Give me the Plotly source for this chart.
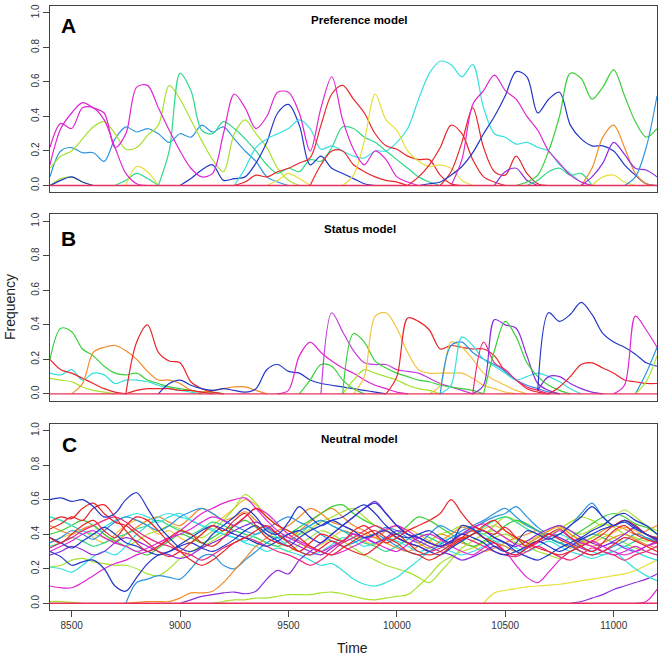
import plotly.graph_objects as go

STEP = 50
T_START, T_END = 8400, 11200
x_ticks = [8500, 9000, 9500, 10000, 10500, 11000]
y_ticks = [0.0, 0.2, 0.4, 0.6, 0.8, 1.0]
panel_titles = ["Preference model", "Status model", "Neutral model"]
panel_letters = ["A", "B", "C"]
baseline_times = [8400, 11200]
baseline_values = [0.0, 0.0]

COL = {
    "red": "#E8262B", "orange": "#F28C28", "gold": "#F2C23A", "yellow": "#E6E03A",
    "lime": "#A6E22E", "green": "#3CCF3C", "spring": "#2FD98A", "cyan": "#36E0E0",
    "azure": "#2F95E0", "blue": "#2338C8", "violet": "#8E2CE0", "purple": "#C43BE0",
    "magenta": "#E026D0", "rose": "#F0287A", "base": "#E8305C",
}

# ---------------- Panel A : Preference model ----------------
A_mag1 = [0.12,0.33,0.42,0.48,0.45,0.42,0.22,0.30,0.57,0.58,
          0.45,0.32,0.20,0.10,0.05,0.07,0.30,0.53,0.45,0.33,
          0.40,0.54,0.54,0.42,0.20,0.45,0.63,0.38,0.21,0.12,
          0.20,0.15,0.05,0.02,0.0]
A_mag2 = [0.22,0.36,0.33,0.45,0.45,0.38,0.22,0.07,0.01,0.0]
A_lime1 = [0.10,0.17,0.20,0.27,0.34,0.37,0.30,0.21,0.22,0.29,
           0.35,0.58,0.50,0.38,0.26,0.15,0.08,0.30,0.38,0.30,
           0.22,0.10,0.03,0.0]
A_lime2 = [0.0,0.04,0.05,0.02,0.0]
A_spring1 = [0.0,0.03,0.07,0.04,0.0]
A_spring2 = [0.0,0.2,0.65,0.55,0.32,0.30,0.37,0.33,0.27,0.2,
             0.12,0.07,0.1,0.08,0.15,0.14,0.22,0.34,0.33,0.28,
             0.25,0.2,0.15,0.1,0.05,0.02,0.0]
A_spring3 = [0.0,0.03,0.08,0.1,0.06,0.07,0.0]
A_azure1 = [0.05,0.2,0.22,0.19,0.19,0.14,0.27,0.34,0.31,0.33,
            0.3,0.25,0.3,0.28,0.35,0.31,0.34,0.27,0.2,0.14,
            0.05,0.02,0.0]
A_azure2 = [0.0,0.05,0.22,0.52]
A_blue1 = [0.0,0.03,0.05,0.02,0.0]
A_blue2 = [0.0,0.04,0.09,0.12,0.03,0.04,0.05,0.13,0.25,0.42,
           0.47,0.35,0.12,0.17,0.1,0.07,0.04,0.01,0.0]
A_blue3 = [0.0,0.01,0.02,0.06,0.11,0.19,0.3,0.4,0.52,0.66,
           0.63,0.42,0.5,0.54,0.35,0.27,0.23,0.23,0.2,0.12,
           0.06,0.01,0.0]
A_cyan1 = [0.0,0.1,0.22,0.27,0.3,0.33,0.38,0.33,0.21,0.23,
           0.2,0.17,0.16,0.2,0.2,0.25,0.33,0.5,0.65,0.72,
           0.7,0.63,0.7,0.45,0.3,0.28,0.24,0.25,0.22,0.2,
           0.12,0.07,0.02,0.0]
A_red1 = [0.0,0.02,0.06,0.05,0.08,0.1,0.13,0.16,0.35,0.53,
          0.58,0.5,0.42,0.3,0.23,0.21,0.17,0.15,0.15,0.06,
          0.01,0.0]
A_red2 = [0.0,0.12,0.2,0.2,0.12,0.08,0.05,0.03,0.02,0.0]
A_red3 = [0.0,0.05,0.12,0.22,0.35,0.3,0.15,0.05,0.02,0.0]
A_red4 = [0.0,0.08,0.25,0.45,0.22,0.08,0.06,0.17,0.07,0.01,0.0]
A_yel1 = [0.0,0.11,0.08,0.0]
A_yel2 = [0.0,0.03,0.07,0.04,0.0]
A_yel3 = [0.0,0.06,0.26,0.53,0.38,0.32,0.2,0.14,0.11,0.12,0.1,0.03,0.0]
A_yel4 = [0.0,0.05,0.06,0.02,0.0]
A_mag3 = [0.0,0.15,0.47,0.55,0.64,0.55,0.5,0.4,0.32,0.2,0.13,0.06,0.02,0.0]
A_green = [0.0,0.02,0.06,0.2,0.4,0.65,0.62,0.5,0.57,0.67,0.52,0.37,0.28,0.33]
A_orange = [0.0,0.1,0.28,0.35,0.22,0.07,0.01,0.0]
A_violet1 = [0.0,0.08,0.1,0.03,0.0]
A_violet2 = [0.0,0.05,0.13,0.25,0.18,0.1,0.09,0.05]

panel_A = [
    ("azure", 8400, A_azure1), ("lime", 8400, A_lime1), ("lime", 8400, A_lime2),
    ("blue", 8400, A_blue1), ("spring", 8700, A_spring1), ("yellow", 8750, A_yel1),
    ("spring", 8900, A_spring2), ("blue", 9000, A_blue2), ("cyan", 9250, A_cyan1),
    ("yellow", 9400, A_yel2), ("red", 9250, A_red1), ("red", 9600, A_red2),
    ("yellow", 9750, A_yel3), ("red", 10050, A_red3), ("red", 10200, A_red4),
    ("blue", 10100, A_blue3), ("violet", 10450, A_violet1), ("spring", 10600, A_spring3),
    ("green", 10550, A_green), ("yellow", 10900, A_yel4), ("orange", 10850, A_orange),
    ("violet", 10850, A_violet2), ("azure", 11050, A_azure2),
    ("magenta", 8400, A_mag2), ("magenta", 8400, A_mag1), ("magenta", 10250, A_mag3),
]

# ---------------- Panel B : Status model ----------------
B_green1 = [0.2,0.38,0.36,0.26,0.22,0.16,0.12,0.11,0.12,0.08,0.06,0.04,0.03,0.02,0.01,0.01,0.0]
B_red1 = [0.2,0.14,0.12,0.09,0.06,0.03,0.01,0.0]
B_red2 = [0.0,0.3,0.4,0.24,0.19,0.18,0.07,0.03,0.01,0.0]
B_red3 = [0.0,0.02,0.03,0.03,0.03,0.02,0.02,0.01,0.0]
B_cyan1 = [0.12,0.11,0.14,0.08,0.12,0.11,0.06,0.08,0.08,0.07,0.05,0.03,0.02,0.01,0.0]
B_lime1 = [0.09,0.08,0.07,0.04,0.02,0.01,0.0]
B_orange1 = [0.0,0.06,0.24,0.27,0.28,0.25,0.2,0.13,0.08,0.08,0.06,0.02,0.01,0.02,0.03,0.04,0.04,0.02,0.0]
B_blue1 = [0.0,0.06,0.08,0.05,0.03,0.02,0.03,0.02,0.01,0.03,0.14,0.17,0.13,0.12,0.08,0.06,0.05,0.04,0.03,0.02,0.01,0.0]
B_mag1 = [0.0,0.02,0.22,0.3,0.24,0.19,0.15,0.12,0.08,0.05,0.03,0.01,0.0]
B_purple1 = [0.0,0.47,0.36,0.25,0.18,0.17,0.17,0.14,0.13,0.12,0.09,0.06,0.04,0.02,0.0]
B_green2 = [0.0,0.08,0.17,0.16,0.08,0.03,0.0]
B_green3 = [0.0,0.35,0.3,0.19,0.15,0.12,0.1,0.08,0.07,0.05,0.04,0.03,0.02,0.0]
B_gold1 = [0.0,0.1,0.45,0.47,0.38,0.24,0.14,0.12,0.12,0.12,0.12,0.09,0.05,0.03,0.01,0.0]
B_lime2 = [0.0,0.08,0.14,0.12,0.1,0.08,0.05,0.03,0.02,0.0]
B_red4 = [0.0,0.1,0.44,0.42,0.37,0.26,0.28,0.27,0.26,0.26,0.22,0.13,0.08,0.03,0.01,0.0]
B_gold2 = [0.0,0.05,0.3,0.27,0.2,0.12,0.08,0.05,0.02,0.0]
B_azure1 = [0.0,0.28,0.3,0.24,0.2,0.17,0.13,0.08,0.05,0.03,0.01,0.0]
B_cyan2 = [0.0,0.05,0.33,0.28,0.2,0.16,0.12,0.08,0.1,0.12,0.1,0.07,0.03,0.0]
B_rose1 = [0.0,0.3,0.18,0.14,0.08,0.04,0.02,0.0]
B_violet1 = [0.0,0.05,0.43,0.4,0.38,0.22,0.06,0.02,0.0]
B_green4 = [0.0,0.25,0.42,0.33,0.18,0.1,0.05,0.02,0.0]
B_blue2 = [0.02,0.47,0.42,0.46,0.53,0.46,0.35,0.3,0.27,0.23,0.18,0.16]
B_red5 = [0.0,0.04,0.1,0.17,0.18,0.15,0.12,0.08,0.07,0.06,0.06]
B_violet2 = [0.02,0.1,0.1,0.06,0.03,0.01,0.0]
B_mag2 = [0.0,0.05,0.45,0.37,0.27]
B_azure2 = [0.0,0.12,0.27]
B_lime3 = [0.0,0.07,0.22]

panel_B = [
    ("lime", 8400, B_lime1), ("cyan", 8400, B_cyan1), ("red", 8400, B_red1),
    ("green", 8400, B_green1), ("orange", 8500, B_orange1), ("red", 8750, B_red3),
    ("red", 8750, B_red2), ("blue", 8900, B_blue1), ("green", 9550, B_green2),
    ("magenta", 9450, B_mag1), ("purple", 9650, B_purple1), ("lime", 9750, B_lime2),
    ("green", 9750, B_green3), ("gold", 9800, B_gold1), ("red", 9950, B_red4),
    ("gold", 10150, B_gold2), ("azure", 10200, B_azure1), ("cyan", 10200, B_cyan2),
    ("rose", 10350, B_rose1), ("violet", 10350, B_violet1), ("green", 10400, B_green4),
    ("violet", 10650, B_violet2), ("red", 10700, B_red5), ("blue", 10650, B_blue2),
    ("magenta", 11000, B_mag2), ("azure", 11100, B_azure2), ("lime", 11100, B_lime3),
]

# ---------------- Panel C : Neutral model ----------------
N01 = [0.60,0.61,0.59,0.60,0.56,0.50,0.52,0.60,0.64,0.55,
       0.45,0.38,0.32,0.30,0.33,0.40,0.45,0.50,0.55,0.50,
       0.42,0.40,0.47,0.56,0.50,0.45,0.48,0.50,0.54,0.57,
       0.52,0.45,0.40,0.38,0.40,0.42,0.38,0.35,0.45,0.43,
       0.38,0.33,0.30,0.35,0.42,0.40,0.37,0.40,0.45,0.50,
       0.56,0.50,0.45,0.48,0.44,0.40,0.37]
N02 = [0.47,0.50,0.49,0.55,0.58,0.52,0.47,0.45,0.40,0.35,
       0.30,0.27,0.30,0.35,0.40,0.45,0.42,0.48,0.52,0.45,
       0.38,0.35,0.33,0.30,0.35,0.40,0.38,0.36,0.42,0.45,
       0.40,0.35,0.38,0.42,0.45,0.48,0.52,0.60,0.52,0.45,
       0.42,0.40,0.44,0.38,0.33,0.36,0.40,0.43,0.38,0.33,
       0.30,0.35,0.42,0.45,0.40,0.37,0.35]
N03 = [0.43,0.46,0.50,0.48,0.55,0.57,0.50,0.42,0.35,0.30,
       0.33,0.38,0.42,0.40,0.35,0.33,0.38,0.45,0.50,0.55,
       0.50,0.45,0.42,0.38,0.33,0.30,0.28,0.32,0.36,0.40,
       0.42,0.38,0.35,0.30,0.28,0.25,0.28,0.33,0.37,0.40,
       0.45,0.48,0.42,0.38,0.35,0.32,0.30,0.28,0.30,0.33,
       0.36,0.40,0.45,0.48,0.45,0.40,0.38]
N04 = [0.38,0.35,0.40,0.45,0.48,0.42,0.38,0.45,0.50,0.48,
       0.42,0.35,0.30,0.25,0.22,0.25,0.30,0.35,0.38,0.42,
       0.45,0.40,0.35,0.30,0.28,0.32,0.36,0.33,0.30,0.28,
       0.32,0.37,0.40,0.35,0.30,0.28,0.30,0.34,0.38,0.42,
       0.38,0.35,0.30,0.28,0.32,0.36,0.40,0.37,0.34,0.30,
       0.28,0.30,0.34,0.38,0.36,0.33,0.30]
N05 = [0.45,0.42,0.40,0.43,0.45,0.40,0.36,0.40,0.44,0.48,
       0.50,0.47,0.45,0.50,0.55,0.52,0.48,0.50,0.53,0.48,
       0.43,0.40,0.38,0.42,0.47,0.52,0.55,0.50,0.45,0.42,
       0.38,0.35,0.32,0.30,0.33,0.36,0.40,0.38,0.35,0.33,
       0.30,0.32,0.35,0.38,0.40,0.42,0.38,0.35,0.32,0.35,
       0.38,0.42,0.45,0.43,0.40,0.42,0.45]
N06 = [0.0,0.005,0.01,0.01,0.01,0.03,0.06,0.06,0.07,0.12,
       0.19,0.26,0.33,0.38,0.42,0.45,0.50,0.55,0.52,0.47,
       0.45,0.42,0.40,0.38,0.42,0.45,0.40,0.35,0.32,0.36,
       0.40,0.44,0.42,0.38,0.35,0.33,0.30,0.34,0.38,0.42,
       0.45,0.40,0.36,0.33,0.35,0.38,0.40,0.37,0.34,0.32]
N07 = [0.35,0.38,0.40,0.42,0.38,0.35,0.40,0.45,0.48,0.45,
       0.40,0.42,0.38,0.35,0.40,0.45,0.50,0.55,0.60,0.57,
       0.50,0.45,0.40,0.35,0.32,0.34,0.38,0.42,0.40,0.36,
       0.34,0.37,0.40,0.43,0.40,0.36,0.33,0.35,0.38,0.40,
       0.43,0.45,0.42,0.38,0.36,0.39,0.42,0.44,0.40,0.37,
       0.35,0.38,0.41,0.44,0.42,0.38,0.36]
N08 = [0.50,0.48,0.45,0.42,0.40,0.38,0.35,0.33,0.36,0.40,
       0.42,0.45,0.43,0.40,0.38,0.42,0.48,0.55,0.63,0.58,
       0.50,0.45,0.42,0.40,0.43,0.47,0.50,0.53,0.55,0.50,
       0.45,0.42,0.38,0.35,0.33,0.36,0.40,0.42,0.45,0.43,
       0.40,0.45,0.50,0.48,0.45,0.42,0.40,0.43,0.47,0.50,
       0.48,0.45,0.50,0.54,0.50,0.45,0.42]
N09 = [0.40,0.42,0.45,0.48,0.45,0.40,0.36,0.33,0.30,0.28,
       0.32,0.36,0.40,0.38,0.35,0.38,0.42,0.45,0.48,0.44,
       0.40,0.38,0.40,0.44,0.48,0.52,0.56,0.57,0.52,0.48,
       0.45,0.42,0.40,0.45,0.50,0.48,0.44,0.40,0.36,0.33,
       0.36,0.40,0.45,0.48,0.46,0.42,0.38,0.35,0.38,0.42,
       0.46,0.50,0.52,0.50,0.46,0.44,0.40]
N10 = [0.21,0.22,0.25,0.26,0.24,0.23,0.22,0.22,0.20,0.17,
       0.16,0.20,0.26,0.30,0.33,0.36,0.40,0.42,0.40,0.38,
       0.35,0.33,0.30,0.34,0.38,0.42,0.40,0.36,0.32,0.28,
       0.25,0.22,0.20,0.18,0.15,0.12,0.18,0.25,0.32,0.36,
       0.40,0.42,0.38,0.35,0.33,0.30,0.28,0.26,0.30,0.34,
       0.38,0.40,0.38,0.35,0.32,0.30,0.28]
N11 = [0.33,0.35,0.38,0.36,0.33,0.35,0.38,0.40,0.43,0.45,
       0.48,0.45,0.42,0.40,0.43,0.47,0.45,0.42,0.40,0.38,
       0.35,0.33,0.36,0.40,0.45,0.48,0.45,0.42,0.38,0.35,
       0.33,0.30,0.33,0.37,0.40,0.38,0.35,0.33,0.36,0.40,
       0.44,0.48,0.50,0.47,0.43,0.40,0.38,0.35,0.33,0.36,
       0.40,0.38,0.35,0.33,0.36,0.38,0.35]
N12 = [0.21,0.20,0.18,0.22,0.27,0.30,0.28,0.33,0.40,0.45,
       0.50,0.52,0.50,0.48,0.45,0.43,0.40,0.38,0.35,0.33,
       0.30,0.32,0.30,0.28,0.25,0.22,0.23,0.19,0.14,0.11,
       0.10,0.12,0.15,0.20,0.25,0.30,0.33,0.30,0.28,0.30,
       0.33,0.36,0.35,0.32,0.30,0.33,0.36,0.33,0.30,0.28,
       0.26,0.28,0.30,0.25,0.20,0.16,0.13]
N13 = [0.50,0.48,0.45,0.42,0.40,0.44,0.48,0.50,0.52,0.50,
       0.47,0.50,0.52,0.48,0.45,0.42,0.40,0.38,0.36,0.40,
       0.43,0.38,0.33,0.30,0.28,0.30,0.34,0.38,0.36,0.33,
       0.35,0.38,0.36,0.33,0.30,0.32,0.35,0.38,0.40,0.42,
       0.40,0.36,0.33,0.30,0.32,0.35,0.38,0.40,0.37,0.33,
       0.30,0.28,0.30,0.33,0.30,0.27,0.25]
N14 = [0.0,0.12,0.14,0.16,0.15,0.14,0.20,0.27,0.28,0.22,
       0.20,0.25,0.30,0.35,0.38,0.40,0.42,0.45,0.48,0.45,
       0.42,0.40,0.38,0.40,0.44,0.42,0.38,0.35,0.40,0.45,
       0.42,0.40,0.43,0.47,0.50,0.52,0.56,0.50,0.44,0.40,
       0.40,0.45,0.52,0.58,0.50,0.45,0.48,0.45,0.40,0.38]
N15 = [0.35,0.38,0.42,0.40,0.37,0.42,0.47,0.50,0.48,0.45,
       0.42,0.45,0.50,0.53,0.55,0.52,0.48,0.45,0.42,0.40,
       0.43,0.47,0.50,0.47,0.44,0.40,0.36,0.33,0.35,0.38,
       0.40,0.37,0.33,0.30,0.28,0.30,0.34,0.38,0.42,0.45,
       0.48,0.52,0.55,0.50,0.45,0.42,0.38,0.35,0.33,0.30,
       0.28,0.30,0.33,0.36,0.40,0.38,0.35]
N16 = [0.30,0.27,0.22,0.24,0.25,0.20,0.10,0.07,0.15,0.23,
       0.28,0.30,0.33,0.35,0.32,0.30,0.33,0.37,0.42,0.45,
       0.40,0.36,0.33,0.38,0.42,0.45,0.48,0.45,0.42,0.38,
       0.40,0.42,0.38,0.35,0.33,0.30,0.28,0.32,0.36,0.40,
       0.42,0.38,0.35,0.30,0.27,0.25,0.28,0.32,0.35,0.38,
       0.42,0.45,0.50,0.52,0.48,0.45,0.40]
N17 = [0.38,0.35,0.32,0.36,0.40,0.44,0.40,0.35,0.33,0.30,
       0.28,0.30,0.34,0.38,0.42,0.45,0.43,0.40,0.38,0.35,
       0.33,0.36,0.40,0.42,0.38,0.35,0.40,0.45,0.50,0.55,
       0.58,0.52,0.45,0.40,0.38,0.35,0.33,0.36,0.40,0.38,
       0.35,0.30,0.28,0.30,0.33,0.36,0.33,0.30,0.33,0.37,
       0.40,0.43,0.45,0.47,0.43,0.40,0.37]
N18 = [0.0,0.02,0.04,0.05,0.06,0.065,0.055,0.07,0.14,0.19,
       0.17,0.25,0.30,0.35,0.40,0.45,0.50,0.55,0.59,0.52,
       0.45,0.40,0.38,0.35,0.33,0.36,0.40,0.44,0.42,0.38,
       0.35,0.33,0.36,0.40,0.43,0.45,0.42,0.38,0.35,0.33,
       0.36,0.40,0.44,0.40,0.36]
N19 = [0.28,0.30,0.33,0.31,0.28,0.30,0.35,0.38,0.36,0.33,
       0.30,0.28,0.26,0.28,0.32,0.35,0.38,0.42,0.45,0.47,
       0.44,0.40,0.36,0.33,0.30,0.28,0.32,0.36,0.40,0.38,
       0.35,0.38,0.42,0.40,0.36,0.33,0.30,0.28,0.25,0.27,
       0.30,0.33,0.30,0.28,0.32,0.36,0.40,0.38,0.35,0.32,
       0.30,0.33,0.35,0.32,0.30,0.33,0.36]
N20 = [0.10,0.09,0.09,0.12,0.16,0.20,0.23,0.25,0.28,0.30,
       0.33,0.37,0.42,0.47,0.52,0.55,0.58,0.60,0.61,0.55,
       0.48,0.42,0.38,0.35,0.32,0.30,0.33,0.36,0.40,0.38,
       0.35,0.32,0.30,0.34,0.38,0.40,0.37,0.33,0.30,0.28,
       0.32,0.35,0.30,0.22,0.15,0.12,0.18,0.25,0.30,0.33,
       0.36,0.33,0.30,0.28,0.30,0.33,0.35]
N21 = [0.30,0.33,0.36,0.40,0.42,0.38,0.35,0.33,0.30,0.32,
       0.35,0.38,0.40,0.43,0.47,0.50,0.48,0.45,0.50,0.55,
       0.52,0.46,0.40,0.36,0.33,0.30,0.28,0.30,0.33,0.36,
       0.40,0.43,0.45,0.42,0.38,0.35,0.33,0.36,0.40,0.44,
       0.46,0.42,0.38,0.34,0.32,0.35,0.38,0.42,0.38,0.35,
       0.33,0.30,0.28,0.30,0.33,0.30,0.28]
N22 = [0.32,0.35,0.38,0.42,0.45,0.48,0.50,0.47,0.42,0.38,
       0.35,0.33,0.30,0.28,0.25,0.28,0.32,0.35,0.38,0.36,
       0.33,0.30,0.28,0.25,0.22,0.25,0.30,0.35,0.38,0.42,
       0.45,0.42,0.38,0.35,0.33,0.30,0.32,0.35,0.38,0.36,
       0.33,0.30,0.28,0.27,0.30,0.33,0.30,0.27,0.25,0.28,
       0.32,0.30,0.28,0.25,0.28,0.30,0.33]
N23a = [0.01,0.01,0.005,0.0]
N23b = [0.0,0.01,0.02,0.02,0.03,0.03,0.04,0.05,0.05,0.05,
        0.06,0.065,0.055,0.04,0.025,0.02,0.03,0.04,0.05,0.1,
        0.16,0.23,0.27,0.30,0.32,0.35,0.38,0.40,0.37,0.35,
        0.38,0.42,0.45,0.42,0.40,0.43,0.46,0.44,0.40,0.38,
        0.36,0.38]
N24 = [0.0,0.06,0.075,0.085,0.095,0.1,0.105,0.11,0.12,0.13,
       0.14,0.15,0.16,0.17,0.19,0.22,0.25]
N25 = [0.0,0.01,0.03,0.05,0.08,0.1,0.12,0.14,0.17]
N26 = [0.0,0.01,0.08]

panel_C = [
    ("lime", 8400, N23a), ("lime", 9150, N23b), ("yellow", 10400, N24),
    ("violet", 10800, N25), ("magenta", 11100, N26),
    ("orange", 8400, N05), ("gold", 8400, N07), ("lime", 8400, N08),
    ("green", 8400, N09), ("lime", 8400, N10), ("spring", 8400, N11),
    ("cyan", 8400, N12), ("cyan", 8400, N13), ("azure", 8750, N14),
    ("azure", 8400, N15), ("orange", 8750, N06), ("violet", 9000, N18),
    ("violet", 8400, N19), ("magenta", 8400, N20), ("magenta", 8400, N21),
    ("rose", 8400, N22), ("blue", 8400, N17), ("blue", 8400, N16),
    ("red", 8400, N04), ("red", 8400, N03), ("red", 8400, N02), ("blue", 8400, N01),
]

fig = go.Figure()
panels = [panel_A, panel_B, panel_C]
suffix = ["", "2", "3"]
for panel, sfx in zip(panels, suffix):
    for col, start, vals in panel:
        t = [start + STEP * i for i in range(len(vals))]
        fig.add_trace(go.Scatter(
            x=t, y=vals, mode="lines", hoverinfo="skip", showlegend=False,
            line=dict(color=COL[col], width=1.2, shape="spline", smoothing=0.9),
            xaxis="x" + sfx, yaxis="y" + sfx))
    fig.add_trace(go.Scatter(
        x=baseline_times, y=baseline_values, mode="lines", hoverinfo="skip",
        showlegend=False, line=dict(color=COL["base"], width=1.3),
        xaxis="x" + sfx, yaxis="y" + sfx))

doms = [(0.7093, 0.9939), (0.3912, 0.6758), (0.0715, 0.3562)]
layout = dict(
    width=661, height=657, margin=dict(l=0, r=0, t=0, b=0),
    paper_bgcolor="white", plot_bgcolor="white", showlegend=False,
    font=dict(family="Liberation Sans, Arial, sans-serif", color="#222"),
)
for i, (d0, d1) in enumerate(doms):
    sfx = suffix[i]
    xa = dict(domain=[0.0756, 0.994], range=[T_START, T_END], showline=True,
              mirror=True, linecolor="#444", linewidth=1, showgrid=False,
              zeroline=False, anchor="y" + sfx)
    if i == 2:
        xa.update(tickmode="array", tickvals=x_ticks,
                  ticktext=[str(v) for v in x_ticks], ticks="outside",
                  ticklen=6, tickcolor="#444",
                  tickfont=dict(size=10, color="#333"))
    else:
        xa.update(showticklabels=False, ticks="")
    ya = dict(domain=[d0, d1], range=[-0.04, 1.04], showline=True, mirror=True,
              linecolor="#444", linewidth=1, showgrid=False, zeroline=False,
              tickmode="array", tickvals=y_ticks,
              ticktext=[f"{v:.1f}" for v in y_ticks], tickangle=-90,
              ticks="outside", ticklen=6, tickcolor="#444",
              tickfont=dict(size=10, color="#333"), anchor="x" + sfx)
    layout["xaxis" + sfx] = xa
    layout["yaxis" + sfx] = ya

letter_pos = [(0.1029, 0.9635), (0.1029, 0.6393), (0.1059, 0.3242)]
title_pos = [(0.5446, 0.9726), (0.5446, 0.653), (0.5446, 0.3333)]
ann = []
for (lx, ly), letter in zip(letter_pos, panel_letters):
    ann.append(dict(x=lx, y=ly, xref="paper", yref="paper", text=f"<b>{letter}</b>",
                    showarrow=False, font=dict(size=21, color="black"),
                    xanchor="center", yanchor="middle"))
for (tx, ty), title in zip(title_pos, panel_titles):
    ann.append(dict(x=tx, y=ty, xref="paper", yref="paper", text=f"<b>{title}</b>",
                    showarrow=False, font=dict(size=11.5, color="black"),
                    xanchor="center", yanchor="middle"))
ann.append(dict(x=0.0151, y=0.5342, xref="paper", yref="paper", text="Frequency",
                textangle=-90, showarrow=False, font=dict(size=14, color="#222"),
                xanchor="center", yanchor="middle"))
ann.append(dict(x=0.534, y=0.0137, xref="paper", yref="paper", text="Time",
                showarrow=False, font=dict(size=14, color="#222"),
                xanchor="center", yanchor="middle"))
layout["annotations"] = ann

fig.update_layout(**layout)
fig.write_html(
    "out.html",
    config={"displayModeBar": False, "staticPlot": True},
    post_script="document.body.style.margin='0';document.body.style.padding='0';"
                "document.body.style.overflow='hidden';",
)
